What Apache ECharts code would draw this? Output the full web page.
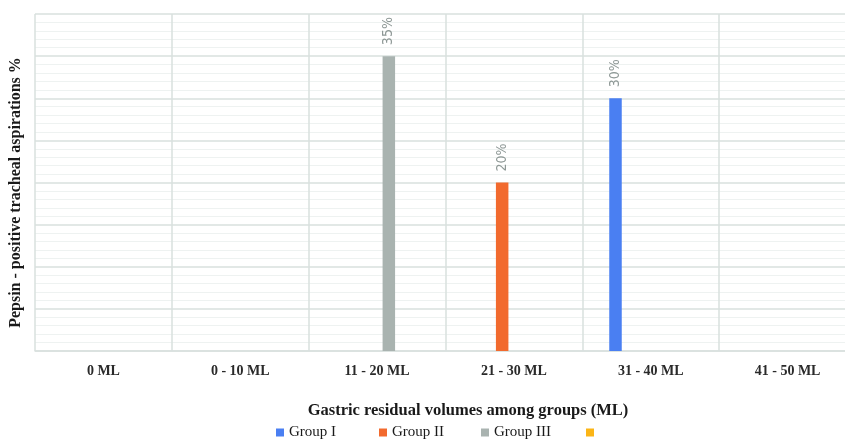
<!DOCTYPE html>
<html>
<head>
<meta charset="utf-8">
<script src="https://cdn.jsdelivr.net/npm/echarts@6/dist/echarts.min.js"></script>
<style>
  html, body { margin: 0; padding: 0; background: #ffffff; overflow: hidden; }
  #wrap { width: 845px; height: 440px; overflow: hidden; }
  /* the plot runs slightly past the right edge, so the canvas is wider than the view */
  #chart { width: 856px; height: 440px; }
</style>
</head>
<body>
<div id="wrap"><div id="chart"></div></div>
<script>
// Gastric residual volume bins
const categories = ['0 ML', '0 - 10 ML', '11 - 20 ML', '21 - 30 ML', '31 - 40 ML', '41 - 50 ML'];

// Pepsin-positive tracheal aspirations (%) per group; null = no bar
const groupI   = [null, null, null, null, 30, null];
const groupII  = [null, null, null, 20, null, null];
const groupIII = [null, null, 35, null, null, null];
const groupIV  = [null, null, null, null, null, null];

const seriesNames = ['Group I', 'Group II', 'Group III', ' '];
const seriesColors = ['#4a7ff2', '#f26a2e', '#a9b3b0', '#fbb516'];
const seriesData = [groupI, groupII, groupIII, groupIV];
const legendLeft = [271, 374, 476, 581];

const chart = echarts.init(document.getElementById('chart'));

const serif = 'Liberation Serif';

chart.setOption({
  animation: false,
  textStyle: { fontFamily: serif },
  grid: { left: 34, right: 0, top: 14, bottom: 89, containLabel: false },
  title: {
    text: 'Gastric residual volumes among groups (ML)',
    left: 463,
    top: 397,
    textAlign: 'center',
    textStyle: { fontFamily: serif, fontWeight: 'bold', fontSize: 16.5, color: '#1a1a1a' }
  },
  legend: seriesNames.map((name, i) => ({
    data: [name],
    left: legendLeft[i],
    top: 420,
    itemWidth: 8,
    itemHeight: 8,
    itemGap: 0,
    icon: 'rect',
    textStyle: { fontFamily: serif, fontSize: 15, color: '#1a1a1a' }
  })),
  xAxis: {
    type: 'category',
    data: categories,
    boundaryGap: true,
    axisLine: { show: true, lineStyle: { color: '#d9e0de', width: 1.5 } },
    axisTick: { show: false },
    axisLabel: { fontFamily: serif, fontSize: 14, fontWeight: 'bold', color: '#2a2a2a', margin: 13 },
    splitLine: { show: true, lineStyle: { color: '#d9e0de', width: 1.5 } }
  },
  yAxis: {
    type: 'value',
    min: 0,
    max: 40,
    interval: 5,
    name: 'Pepsin - positive tracheal aspirations %',
    nameLocation: 'middle',
    nameGap: 11,
    nameTextStyle: { fontFamily: serif, fontWeight: 'bold', fontSize: 16, color: '#1a1a1a', padding: [0, 0, 0, -20] },
    axisLine: { show: false },
    axisTick: { show: false },
    axisLabel: { show: false },
    splitLine: { show: true, lineStyle: { color: '#d9e0de', width: 1.5 } },
    minorTick: { show: false, splitNumber: 5 },
    minorSplitLine: { show: true, lineStyle: { color: '#eef2f1', width: 1 } }
  },
  series: seriesNames.map((name, i) => ({
    name: name,
    type: 'bar',
    data: seriesData[i],
    barWidth: 12.5,
    barGap: '88%',
    itemStyle: { color: seriesColors[i] },
    label: {
      show: true,
      position: 'top',
      rotate: 90,
      align: 'left',
      verticalAlign: 'middle',
      distance: 11,
      fontFamily: 'DejaVu Sans Condensed',
      fontSize: 14,
      color: '#8e9896',
      formatter: p => p.value + '%'
    }
  }))
});
</script>
</body>
</html>
